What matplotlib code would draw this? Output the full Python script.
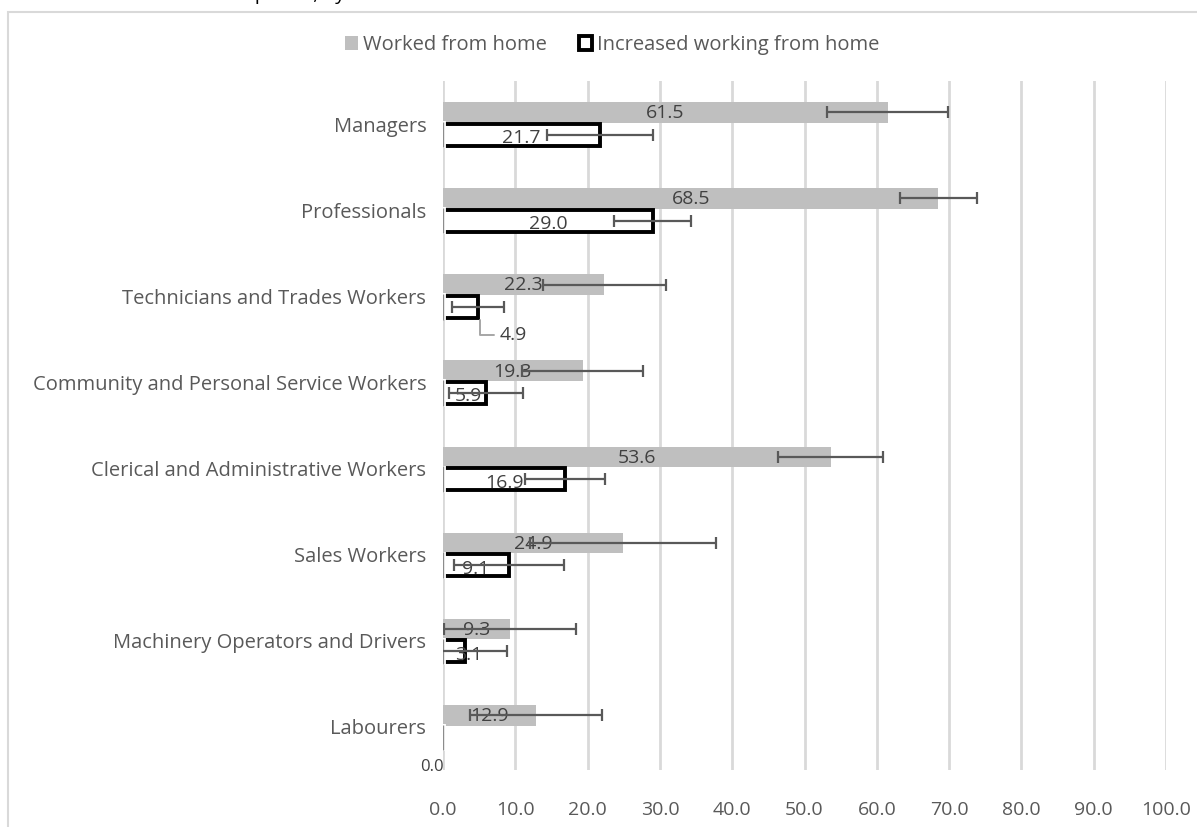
import matplotlib
matplotlib.use("Agg")
import matplotlib.pyplot as plt
from matplotlib.patches import Patch, Rectangle
import numpy as np

# ── Data ─────────────────────────────────────────────────────────────────────
occupations = [
    "Managers",
    "Professionals",
    "Technicians and Trades Workers",
    "Community and Personal Service Workers",
    "Clerical and Administrative Workers",
    "Sales Workers",
    "Machinery Operators and Drivers",
    "Labourers",
]
worked_home     = [61.5, 68.5, 22.3, 19.3, 53.6, 24.9, 9.3, 12.9]
worked_home_err = [8.4, 5.3, 8.5, 8.4, 7.2, 12.8, 9.1, 9.1]
increased       = [21.7, 29.0, 4.9, 5.9, 16.9, 9.1, 3.1, 0.0]
increased_err   = [7.3, 5.3, 3.6, 5.1, 5.5, 7.6, 5.8, 0.0]
x_ticks = np.arange(0, 101, 10)

# ── Style ────────────────────────────────────────────────────────────────────
plt.rcParams["font.family"] = ["Open Sans", "DejaVu Sans"]
GREY_BAR  = "#bfbfbf"
GRID      = "#d9d9d9"
ERR       = "#595959"
LABEL     = "#404040"
TICK      = "#595959"
FS        = 14

fig = plt.figure(figsize=(11.97, 8.27), dpi=100)
W, H = 1197, 827
ax = fig.add_axes([443 / W, 1 - 770 / H, (1166 - 443) / W, (770 - 81) / H])

# chart border (only left and top edges fall inside the picture)
fig.patches.append(Rectangle((8 / W, -0.2), 1.2, 1.2 - 12 / H,
                             transform=fig.transFigure, fill=False,
                             edgecolor=GRID, linewidth=1.5))

# title, cut off by the top edge in the source image
fig.text(20 / W, 1.0, "Worked from home: Occupation, by sex", fontsize=14,
         color="#000000", va="baseline", ha="left")

y = np.arange(len(occupations))
y_grey  = y - 0.136
y_black = y + 0.122
h_grey, h_black = 0.24, 0.255

ax.barh(y_grey, worked_home, height=h_grey, color=GREY_BAR, zorder=2)
ax.barh(y_black, increased, height=h_black, facecolor="white",
        edgecolor="black", linewidth=2.8, zorder=3)

# left edge of outlined bars shows as a thin grey line
zeros = np.zeros_like(y_black, dtype=float)
ax.vlines(zeros, y_black - h_black / 2 - 0.03, y_black + h_black / 2 + 0.03,
          color="white", linewidth=4.2, zorder=4)
ax.vlines(zeros, y_black - h_black / 2 - 0.02, y_black + h_black / 2 + 0.02,
          color="#8c8c8c", linewidth=1.0, zorder=4)

ax.errorbar(worked_home, y_grey, xerr=worked_home_err, fmt="none",
            ecolor=ERR, elinewidth=1.6, capsize=4.5, capthick=1.6, zorder=6)
mask = np.array(increased_err) > 0
ax.errorbar(np.array(increased)[mask], y_black[mask],
            xerr=np.array(increased_err)[mask], fmt="none",
            ecolor=ERR, elinewidth=1.6, capsize=4.5, capthick=1.6, zorder=6)

# data labels
for v, yy in zip(worked_home, y_grey):
    ax.text(max(v / 2, 3.5), yy + 0.01, f"{v:.1f}", ha="center", va="center",
            fontsize=FS, color=LABEL, zorder=5)
for i, (v, yy) in enumerate(zip(increased, y_black)):
    name = occupations[i]
    if name.startswith("Technicians"):
        ax.annotate(f"{v:.1f}", xy=(v + 0.2, yy + h_black / 2 + 0.02),
                    xytext=(14, -11), textcoords="offset points",
                    ha="left", va="center", fontsize=FS, color=LABEL,
                    arrowprops=dict(arrowstyle="-", color="#a6a6a6", lw=1.4,
                                    shrinkA=2, shrinkB=0,
                                    connectionstyle="angle,angleA=0,angleB=90,rad=0"),
                    zorder=5)
    elif v == 0:
        ax.annotate(f"{v:.1f}", xy=(0, yy), xytext=(-8, -21),
                    textcoords="offset points", ha="center", va="center",
                    fontsize=FS - 2, color=LABEL, annotation_clip=False)
    else:
        ax.text(max(v / 2, 3.5), yy + 0.04, f"{v:.1f}", ha="center",
                va="center", fontsize=FS, color=LABEL, zorder=5)

# axes
ax.set_xlim(0, 100)
ax.set_ylim(len(occupations) - 0.5, -0.5)
ax.set_xticks(x_ticks)
ax.set_xticklabels([f"{t:.1f}" for t in x_ticks])
ax.set_yticks(y)
ax.set_yticklabels(occupations)
ax.tick_params(axis="both", length=0, labelsize=FS, labelcolor=TICK)
ax.tick_params(axis="y", labelsize=FS + 0.5, pad=12)
ax.tick_params(axis="x", pad=22)
for s in ax.spines.values():
    s.set_visible(False)
ax.grid(axis="x", color=GRID, linewidth=2.0, zorder=0)
ax.set_axisbelow(True)

handles = [Patch(facecolor=GREY_BAR, edgecolor="none", label="Worked from home"),
           Patch(facecolor="white", edgecolor="black", linewidth=2.8,
                 label="Increased working from home")]
fig.legend(handles=handles, loc="center", bbox_to_anchor=(612 / W, 1 - 45 / H),
           ncol=2, frameon=False, fontsize=FS + 0.5, labelcolor=TICK,
           handlelength=0.65, handleheight=0.65, handletextpad=0.25,
           columnspacing=1.6)

fig.savefig("out.png", dpi=100)
